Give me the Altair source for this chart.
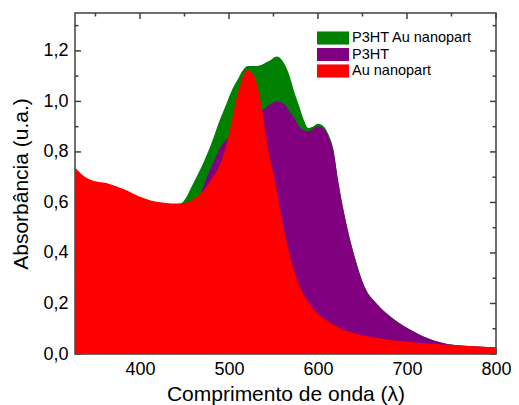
import altair as alt
import pandas as pd

# ---- data ----
series_names = ["P3HT Au nanopart", "P3HT", "Au nanopart"]
series_colors = ["#008000", "#800080", "#ff0000"]

green_wl = [327, 400, 440, 447, 460, 467, 474, 482, 489, 497, 504, 511, 516, 521, 526, 530, 537,
            542, 547, 551, 554, 558, 562, 567, 574, 579, 584, 589, 594, 600, 606, 612, 617, 623,
            630, 641, 652, 667, 686, 704, 723, 745, 800]
green_abs = [0.70, 0.60, 0.59, 0.598, 0.676, 0.725, 0.78, 0.85, 0.92, 0.99, 1.05, 1.095, 1.125,
             1.14, 1.14, 1.14, 1.145, 1.155, 1.164, 1.175, 1.178, 1.17, 1.15, 1.111, 1.03, 0.98,
             0.927, 0.895, 0.90, 0.912, 0.903, 0.868, 0.815, 0.68, 0.548, 0.389, 0.27, 0.196,
             0.137, 0.096, 0.063, 0.040, 0.026]

purple_wl = [327, 380, 420, 445, 460, 467, 475, 482, 489, 500, 515, 530, 537, 545, 554, 562, 567,
             573, 578, 584, 589, 595, 600, 605, 610, 614, 617, 623, 630, 641, 652, 667, 686, 704,
             723, 745, 770, 800]
purple_abs = [0.40, 0.38, 0.42, 0.48, 0.56, 0.623, 0.70, 0.755, 0.81, 0.86, 0.91, 0.945, 0.962,
              0.986, 1.0, 0.99, 0.966, 0.935, 0.905, 0.885, 0.882, 0.893, 0.902, 0.896, 0.875,
              0.84, 0.81, 0.676, 0.544, 0.385, 0.267, 0.194, 0.135, 0.095, 0.062, 0.040, 0.032,
              0.026]

red_wl = [327, 335, 345, 363, 382, 400, 419, 441, 452, 463, 472, 480, 487, 493, 498, 503, 508, 513,
          517, 521, 525, 530, 534, 538, 544, 552, 559, 567, 578, 593, 615, 641, 665, 686, 715, 741,
          770, 800]
red_abs = [0.738, 0.71, 0.689, 0.676, 0.652, 0.623, 0.603, 0.596, 0.600, 0.621, 0.650, 0.69, 0.73,
           0.78, 0.84, 0.92, 1.005, 1.07, 1.11, 1.125, 1.115, 1.085, 1.03, 0.95, 0.81, 0.68, 0.54,
           0.41, 0.28, 0.187, 0.121, 0.082, 0.064, 0.053, 0.044, 0.038, 0.032, 0.026]

x_major = [400, 500, 600, 700, 800]
x_minor = [350, 450, 550, 650, 750]
y_major = [0.0, 0.2, 0.4, 0.6, 0.8, 1.0, 1.2]
y_minor = [0.1, 0.3, 0.5, 0.7, 0.9, 1.1, 1.3]

x_domain = [327, 800]
y_domain = [0, 1.35]

W, H = 421, 341
FONT = "Liberation Sans"
FRAME = "#404040"


def series_df(name, wl, ab):
    return pd.DataFrame({"wl": wl, "abs": ab, "series": name})


xscale = alt.Scale(domain=x_domain, nice=False, zero=False)
yscale = alt.Scale(domain=y_domain, nice=False, zero=False)

xaxis = alt.Axis(values=x_major, title="Comprimento de onda (λ)", labelPadding=6,
                 titlePadding=5, format="d", labelFlush=False)
yaxis = alt.Axis(values=y_major, title="Absorbância (u.a.)",
                 labelExpr="replace(format(datum.value, '.1f'), '.', ',')",
                 labelPadding=7, titlePadding=11, labelFlush=False)

legend = alt.Legend(title=None, orient="none", legendX=250, legendY=17, padding=0,
                    symbolType="M-2,-0.82H2V0.82H-2Z", symbolSize=256,
                    symbolStrokeWidth=0, symbolOpacity=1, labelFont=FONT,
                    labelFontSize=14.5, labelColor="black", labelOffset=11, rowPadding=1.5)

color = alt.Color("series:N", scale=alt.Scale(domain=series_names, range=series_colors),
                  legend=legend)


def area(df):
    return alt.Chart(df).mark_area(interpolate="monotone", opacity=1).encode(
        x=alt.X("wl:Q", scale=xscale, axis=xaxis),
        y=alt.Y("abs:Q", scale=yscale, axis=yaxis),
        color=color,
    )


ymaj = pd.DataFrame({"wl": [x_domain[0]] * len(y_major), "abs": y_major})
ymin = pd.DataFrame({"wl": [x_domain[0]] * len(y_minor), "abs": y_minor})
xmaj = pd.DataFrame({"wl": x_major, "abs": [0.0] * len(x_major)})
xmin = pd.DataFrame({"wl": x_minor, "abs": [0.0] * len(x_minor)})


def ytick(df, x0, x1):
    return alt.Chart(df).mark_rule(color=FRAME, strokeWidth=1.5).encode(
        y=alt.Y("abs:Q", scale=yscale, axis=yaxis), x=alt.value(x0), x2=alt.value(x1))


def xtick(df, y0, y1):
    return alt.Chart(df).mark_rule(color=FRAME, strokeWidth=1.5).encode(
        x=alt.X("wl:Q", scale=xscale, axis=xaxis), y=alt.value(y0), y2=alt.value(y1))


ticks = [
    ytick(ymaj, 0, 6), ytick(ymin, 0, 3.5),
    ytick(ymaj, W - 6, W), ytick(ymin, W - 3.5, W),
    xtick(xmaj, 0, 6), xtick(xmin, 0, 3.5),
    xtick(xmaj, H - 6, H), xtick(xmin, H - 3.5, H),
]

areas = [
    area(series_df(series_names[0], green_wl, green_abs)),
    area(series_df(series_names[1], purple_wl, purple_abs)),
    area(series_df(series_names[2], red_wl, red_abs)),
]

chart = alt.layer(*ticks, *areas).properties(
    width=W, height=H,
    padding={"left": 67, "top": 5, "right": 15, "bottom": 60},
    autosize=alt.AutoSizeParams(type="none"),
).configure_view(
    stroke=FRAME, strokeWidth=1.5
).configure_axis(
    domain=False, ticks=False, grid=False,
    labelFont=FONT, titleFont=FONT, labelColor="black", titleColor="black",
    labelFontSize=18, titleFontSize=21, titleFontWeight="normal",
)

chart.save("out.html", embed_options={"renderer": "svg", "actions": False})
